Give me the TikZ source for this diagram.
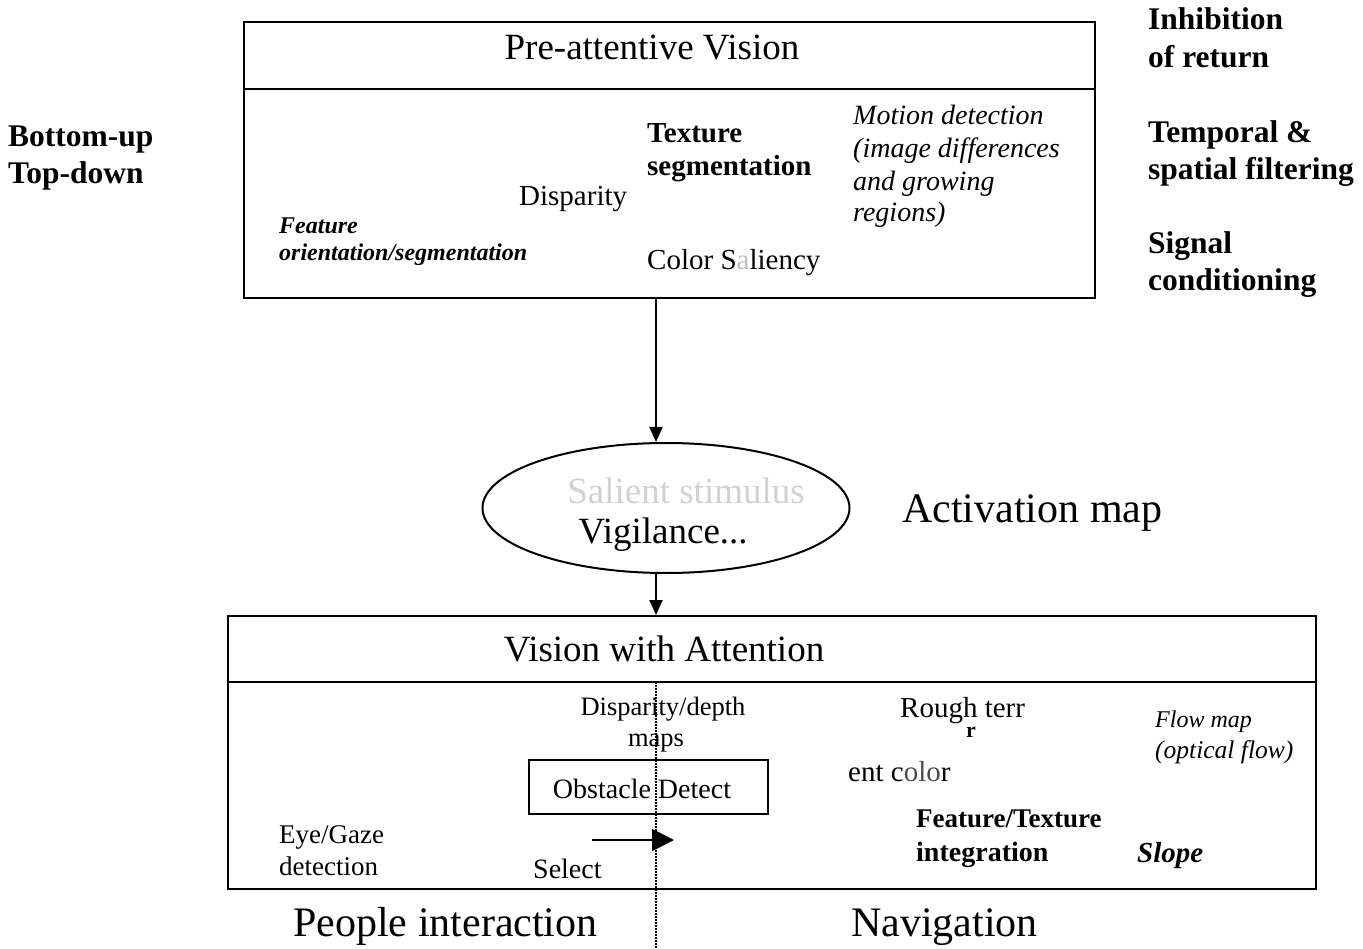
\documentclass[tikz,border=0pt]{standalone}
\usepackage{fontspec}
\setmainfont{Liberation Serif}
\usetikzlibrary{shapes.geometric,arrows.meta}
\begin{document}
\begin{tikzpicture}[x=1pt,y=-1pt,
  box/.style={draw,line width=2pt,inner sep=0,minimum width=#1},
  lbl/.style={inner sep=0,anchor=base west,font=\fontsize{29}{32}\selectfont},
  lblc/.style={inner sep=0,anchor=base,font=\fontsize{29}{32}\selectfont},
  big/.style={font=\fontsize{37}{40}\selectfont},
  huge/.style={font=\fontsize{42}{46}\selectfont},
  bl/.style={font=\fontsize{31.5}{34}\selectfont\bfseries},
  it/.style={font=\fontsize{28}{31}\selectfont\itshape},
  arr/.style={line width=2pt,-{Triangle[length=15pt,width=13pt]}},
  dots/.style={line width=2pt,dash pattern=on 1.5pt off 1.5pt}]
\useasboundingbox (0,0) rectangle (1363,949);
% top box
\node[box=851pt,minimum height=276pt] (top) at (669.5,160) {};
\coordinate (td1) at (244,89);
\coordinate (td2) at (1095,89);
\draw[line width=2pt] (td1) -- (td2);
\node[lblc,big] (ptitle) at (652,60) {Pre-attentive Vision};
% right labels
\node[lbl,bl] (inh1) at (1148,30) {Inhibition};
\node[lbl,bl] (inh2) at (1148,68) {of return};
\node[lbl,bl] (tmp1) at (1148,143) {Temporal \&};
\node[lbl,bl] (tmp2) at (1148,180) {spatial filtering};
\node[lbl,bl] (sig1) at (1148,254) {Signal};
\node[lbl,bl] (sig2) at (1148,291) {conditioning};
\node[lbl,bl] (bu) at (8,147) {Bottom-up};
\node[lbl,bl] (tdn) at (8,184) {Top-down};
% inside top
\node[lbl,font=\fontsize{29}{32}\selectfont\bfseries] (tex1) at (647,143) {Texture};
\node[lbl,font=\fontsize{29}{32}\selectfont\bfseries] (tex2) at (647,176) {segmentation};
\node[lbl,it] (mot1) at (853,125) {Motion detection};
\node[lbl,it] (mot2) at (853,158) {(image differences};
\node[lbl,it] (mot3) at (853,191) {and growing};
\node[lbl,it] (mot4) at (853,222) {regions)};
\node[lbl] (disp) at (519,206) {Disparity};
\node[lbl,font=\fontsize{24}{27}\selectfont\bfseries\itshape] (fe1) at (279,234) {Feature};
\node[lbl,font=\fontsize{24}{27}\selectfont\bfseries\itshape] (fe2) at (279,261) {orientation/segmentation};
\node[lbl] (col) at (647,270) {Color S\textcolor{black!25}{a}liency};
% ellipse
\node[draw,line width=2pt,ellipse,minimum width=367pt,minimum height=130pt,inner sep=0] (ell) at (666,508) {};
\node[lblc,big,text=black!18] (sal) at (686,503) {Salient stimulus};
\node[lblc,big] (vig) at (663,543) {Vigilance...};
\node[lbl,huge] (act) at (902,522) {Activation map};
% arrows
\coordinate (a1) at (656,298);
\draw[arr] (a1) -- (a1 |- ell.north);
\coordinate (a2) at (656,573);
% bottom box
\node[box=1088pt,minimum height=273pt] (bot) at (772,752.5) {};
\draw[arr] (a2) -- (a2 |- bot.north);
\coordinate (bd1) at (228,682);
\coordinate (bd2) at (1316,682);
\draw[line width=2pt] (bd1) -- (bd2);
\node[lblc,big] (vwa) at (664,661) {Vision with Attention};
\node[box=239pt,minimum height=54pt] (obs) at (648.5,787) {};
\node[lblc,font=\fontsize{28}{31}\selectfont] (obst) at (642,798) {Obstacle Detect};
\node[lblc,font=\fontsize{26.5}{30}\selectfont] (dd1) at (663,715) {Disparity/depth};
\node[lblc,font=\fontsize{26.5}{30}\selectfont] (dd2) at (656,746) {maps};
\node[lbl,font=\fontsize{27}{30}\selectfont] (eye1) at (279,843) {Eye/Gaze};
\node[lbl,font=\fontsize{27}{30}\selectfont] (eye2) at (279,875) {detection};
\node[lbl,font=\fontsize{28}{31}\selectfont] (sel) at (533,878) {Select};
\coordinate (s1) at (592,840);
\coordinate (s2) at (674,840);
\draw[line width=2pt,-{Triangle[length=22pt,width=22pt]}] (s1) -- (s2);
\node[lbl] (rough) at (900,717) {Rough terr};
\node[lbl,font=\fontsize{22}{24}\selectfont\bfseries] (rr) at (966,737) {r};
\node[lbl,font=\fontsize{24}{27}\selectfont\itshape] (fm1) at (1155,727) {Flow map};
\node[lbl,font=\fontsize{25.5}{28}\selectfont\itshape] (fm2) at (1155,758) {(optical flow)};
\node[lbl] (entc) at (848,781) {ent c\textcolor{black!70}{olo}r};
\node[lbl,font=\fontsize{27}{30}\selectfont\bfseries] (ft1) at (916,827) {Feature/Texture};
\node[lbl,font=\fontsize{28}{31}\selectfont\bfseries] (ft2) at (916,861) {integration};
\node[lbl,font=\fontsize{29}{32}\selectfont\bfseries\itshape] (slope) at (1137,862) {Slope};
\node[lbl,huge] (ppl) at (293,936) {People interaction};
\node[lbl,huge] (nav) at (851,936) {Navigation};
% dotted divider
\coordinate (v1) at (656,682);
\coordinate (v2) at (656,949);
\draw[dots] (v1) -- (v2);
\end{tikzpicture}
\end{document}
